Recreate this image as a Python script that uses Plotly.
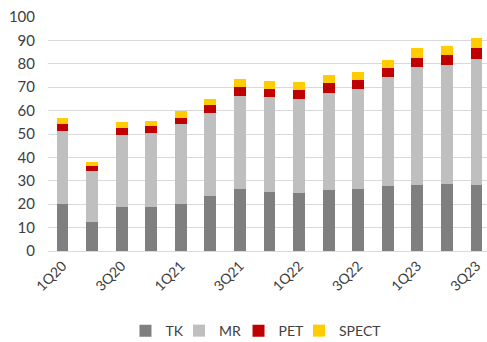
import plotly.graph_objects as go

quarters = ["1Q20", "2Q20", "3Q20", "4Q20", "1Q21", "2Q21", "3Q21", "4Q21",
            "1Q22", "2Q22", "3Q22", "4Q22", "1Q23", "2Q23", "3Q23"]
tk = [20.3, 12.4, 18.7, 18.7, 20.0, 23.3, 26.3, 25.3, 24.6, 26.1, 26.4, 27.9, 28.3, 28.7, 28.3]
mr = [31.1, 21.9, 31.0, 31.7, 34.1, 35.6, 40.1, 40.6, 40.5, 41.6, 42.9, 46.5, 50.3, 50.9, 53.8]
pet = [2.7, 2.1, 2.9, 2.9, 2.9, 3.5, 3.7, 3.4, 3.6, 4.0, 3.8, 3.9, 4.0, 4.1, 4.5]
spect = [2.8, 1.5, 2.5, 2.4, 3.0, 2.7, 3.2, 3.3, 3.4, 3.6, 3.5, 3.4, 4.0, 3.9, 4.3]
shown_ticks = quarters[::2]

series = [("TK", tk, "#7f7f7f"), ("MR", mr, "#bfbfbf"),
          ("PET", pet, "#c00000"), ("SPECT", spect, "#ffcc00")]
legend_ids = ["legend2", "legend3", "legend4", "legend5"]
legend_x = [0.1765, 0.2984, 0.434, 0.5718]

fig = go.Figure()
for (name, vals, col), lid in zip(series, legend_ids):
    fig.add_trace(go.Bar(x=quarters, y=vals, name=name, marker_color=col,
                         marker_line_width=0, legend=lid, showlegend=True))

font = dict(family="Lato, Open Sans, sans-serif", size=14, color="#404040")
legends = {}
for lid, lx in zip(legend_ids, legend_x):
    legends[lid] = dict(orientation="h", x=lx, xanchor="left", y=-0.342,
                        yanchor="middle", font=dict(size=14, color="#404040"),
                        bgcolor="rgba(0,0,0,0)", visible=True)

fig.update_layout(
    barmode="stack", bargap=0.6, showlegend=True,
    width=487, height=342,
    margin=dict(l=48, r=0, t=17, b=91, autoexpand=False),
    plot_bgcolor="white", paper_bgcolor="white",
    font=font,
    xaxis=dict(type="category", tickmode="array", tickvals=shown_ticks,
               ticktext=shown_ticks, tickangle=-45, range=[-0.49, 14.355],
               showgrid=False, showline=False, ticks="", tickfont=dict(size=14),
               automargin=False, ticklabelstandoff=3),
    yaxis=dict(range=[0, 100], dtick=10, gridcolor="#d9d9d9", gridwidth=1,
               zeroline=True, zerolinecolor="#d9d9d9", zerolinewidth=1,
               ticks="", tickfont=dict(size=15), automargin=False,
               ticklabelstandoff=12),
    **legends,
)
fig.write_html("out.html")
